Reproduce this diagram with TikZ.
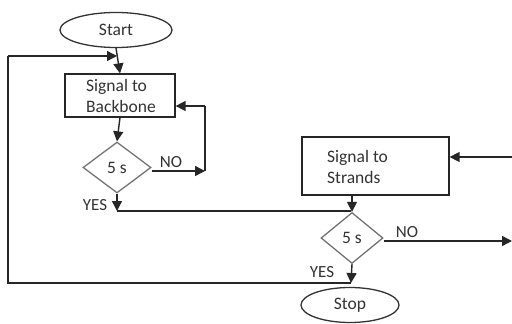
\documentclass[tikz,border=0pt]{standalone}
\usepackage{fontspec}
\setmainfont{Carlito}
\usetikzlibrary{shapes.geometric,arrows.meta}
\begin{document}
\begin{tikzpicture}[x=1pt,y=-1pt,
  every node/.style={font=\fontsize{17.5}{21}\selectfont, text=black!80},
  term/.style={draw=black!80, line width=1.3pt, ellipse, minimum width=#1, minimum height=35pt, inner sep=0pt},
  dec/.style={draw=black!55, line width=1.3pt, diamond, inner sep=0pt, minimum width=68pt, minimum height=51pt},
  conn/.style={draw=black!85, line width=1.4pt},
  arr/.style={conn, -{Triangle[length=10pt,width=10pt]}},
  lbl/.style={font=\fontsize{17}{19}\selectfont, inner sep=0pt}]
\useasboundingbox (0,0) rectangle (512,324);
\fill[white] (0,0) rectangle (512,324);
\clip (0,0) rectangle (512,324);

\node[term=112pt] (start) at (116,30) {Start};
\node[draw=black!85, line width=1.3pt, minimum width=110pt, minimum height=43pt, inner sep=0pt] (bb) at (120,95.5) {};
\node[anchor=west, align=left, inner sep=0pt] at (86,96) {Signal to\\Backbone};
\node[dec] (d1) at (117,167.5) {5 s};
\node[draw=black!85, line width=1.3pt, minimum width=147pt, minimum height=58pt, inner sep=0pt] (st) at (375.5,166) {};
\node[anchor=west, align=left, inner sep=0pt] at (327,166.5) {Signal to\\Strands};
\node[dec, minimum width=62pt, minimum height=51pt] (d2) at (352,238) {5 s};
\node[term=98pt] (stop) at (350,305) {Stop};

\coordinate (loopL1) at (8,283);
\coordinate (loopL2) at (8,56);
\coordinate (top1) at (117,56);
\coordinate (no1) at (205,171);
\coordinate (no1b) at (205,106);
\coordinate (yes1) at (117,211);
\coordinate (join) at (351,211);
\coordinate (no2) at (512,241);
\coordinate (in2) at (512,157);
\coordinate (yes2) at (351,283);

% Start -> box
\draw[arr] (start.south) -- (bb.north);
% left loop
\draw[conn] (yes2) -- (loopL1) -- (loopL2);
\draw[arr] (loopL2) -- (top1);
% box -> d1
\draw[arr] (bb.south) -- (d1.north);
% NO 1
\draw[arr] (d1.east |- no1) -- (no1);
\draw[conn] (no1) -- (no1b);
\draw[arr] (no1b) -- (bb.east |- no1b);
\node[lbl] at (171,162) {NO};
% YES 1
\draw[arr] (d1.south) -- (yes1);
\draw[conn] (yes1) -- (join);
\node[lbl] at (95,205) {YES};
% strands -> d2
\draw[arr] (st.south -| d2.north) -- (d2.north);
% NO 2
\draw[arr] (d2.east |- no2) -- (no2);
\draw[arr] (in2) -- (st.east |- in2);
\node[lbl] at (407,232) {NO};
% YES 2
\draw[arr] (d2.south) -- (yes2);
\node[lbl] at (322,272) {YES};
\end{tikzpicture}
\end{document}
